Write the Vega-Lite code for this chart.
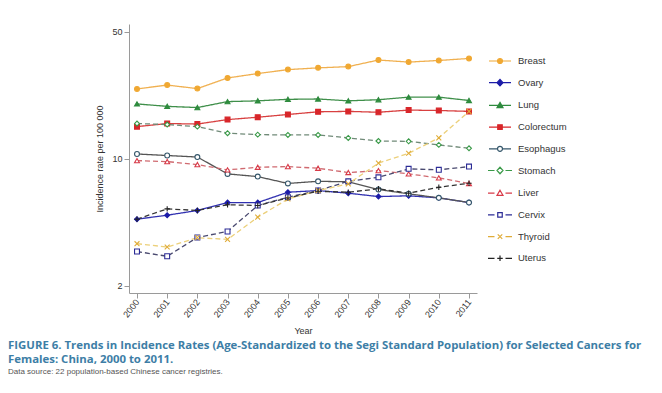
{
  "$schema": "https://vega.github.io/schema/vega-lite/v6.json",
  "width": 348,
  "height": 269,
  "autosize": {"type": "none"},
  "padding": {"left": 129, "top": 24, "right": 185, "bottom": 100},
  "background": "white",
  "title": {
    "text": ["FIGURE 6. Trends in Incidence Rates (Age-Standardized to the Segi Standard Population) for Selected Cancers for", "Females: China, 2000 to 2011."],
    "subtitle": "Data source: 22 population-based Chinese cancer registries.",
    "orient": "bottom",
    "anchor": "start",
    "frame": "group",
    "dx": -121,
    "offset": 4,
    "font": "Open Sans",
    "fontSize": 11.4,
    "fontWeight": "bold",
    "color": "#3d7ea6",
    "lineHeight": 14,
    "subtitleFont": "Liberation Sans",
    "subtitleFontSize": 8,
    "subtitleColor": "#555555",
    "subtitlePadding": 3
  },
  "data": {
    "values": [
      {"Year": 2000, "Cancer": "Breast", "Rate": 24.2}, {"Year": 2001, "Cancer": "Breast", "Rate": 25.4}, {"Year": 2002, "Cancer": "Breast", "Rate": 24.3}, {"Year": 2003, "Cancer": "Breast", "Rate": 27.8}, {"Year": 2004, "Cancer": "Breast", "Rate": 29.4}, {"Year": 2005, "Cancer": "Breast", "Rate": 30.9}, {"Year": 2006, "Cancer": "Breast", "Rate": 31.6}, {"Year": 2007, "Cancer": "Breast", "Rate": 32.1}, {"Year": 2008, "Cancer": "Breast", "Rate": 34.9}, {"Year": 2009, "Cancer": "Breast", "Rate": 34.0}, {"Year": 2010, "Cancer": "Breast", "Rate": 34.7}, {"Year": 2011, "Cancer": "Breast", "Rate": 35.6},
      {"Year": 2000, "Cancer": "Ovary", "Rate": 4.64}, {"Year": 2001, "Cancer": "Ovary", "Rate": 4.88}, {"Year": 2002, "Cancer": "Ovary", "Rate": 5.18}, {"Year": 2003, "Cancer": "Ovary", "Rate": 5.73}, {"Year": 2004, "Cancer": "Ovary", "Rate": 5.73}, {"Year": 2005, "Cancer": "Ovary", "Rate": 6.53}, {"Year": 2006, "Cancer": "Ovary", "Rate": 6.67}, {"Year": 2007, "Cancer": "Ovary", "Rate": 6.45}, {"Year": 2008, "Cancer": "Ovary", "Rate": 6.18}, {"Year": 2009, "Cancer": "Ovary", "Rate": 6.24}, {"Year": 2010, "Cancer": "Ovary", "Rate": 6.08}, {"Year": 2011, "Cancer": "Ovary", "Rate": 5.73},
      {"Year": 2000, "Cancer": "Lung", "Rate": 20.0}, {"Year": 2001, "Cancer": "Lung", "Rate": 19.4}, {"Year": 2002, "Cancer": "Lung", "Rate": 19.1}, {"Year": 2003, "Cancer": "Lung", "Rate": 20.6}, {"Year": 2004, "Cancer": "Lung", "Rate": 20.8}, {"Year": 2005, "Cancer": "Lung", "Rate": 21.2}, {"Year": 2006, "Cancer": "Lung", "Rate": 21.3}, {"Year": 2007, "Cancer": "Lung", "Rate": 20.8}, {"Year": 2008, "Cancer": "Lung", "Rate": 21.1}, {"Year": 2009, "Cancer": "Lung", "Rate": 21.8}, {"Year": 2010, "Cancer": "Lung", "Rate": 21.8}, {"Year": 2011, "Cancer": "Lung", "Rate": 20.9},
      {"Year": 2000, "Cancer": "Colorectum", "Rate": 15.0}, {"Year": 2001, "Cancer": "Colorectum", "Rate": 15.6}, {"Year": 2002, "Cancer": "Colorectum", "Rate": 15.5}, {"Year": 2003, "Cancer": "Colorectum", "Rate": 16.4}, {"Year": 2004, "Cancer": "Colorectum", "Rate": 16.9}, {"Year": 2005, "Cancer": "Colorectum", "Rate": 17.5}, {"Year": 2006, "Cancer": "Colorectum", "Rate": 18.1}, {"Year": 2007, "Cancer": "Colorectum", "Rate": 18.2}, {"Year": 2008, "Cancer": "Colorectum", "Rate": 18.0}, {"Year": 2009, "Cancer": "Colorectum", "Rate": 18.5}, {"Year": 2010, "Cancer": "Colorectum", "Rate": 18.4}, {"Year": 2011, "Cancer": "Colorectum", "Rate": 18.2},
      {"Year": 2000, "Cancer": "Esophagus", "Rate": 10.6}, {"Year": 2001, "Cancer": "Esophagus", "Rate": 10.4}, {"Year": 2002, "Cancer": "Esophagus", "Rate": 10.2}, {"Year": 2003, "Cancer": "Esophagus", "Rate": 8.24}, {"Year": 2004, "Cancer": "Esophagus", "Rate": 7.96}, {"Year": 2005, "Cancer": "Esophagus", "Rate": 7.3}, {"Year": 2006, "Cancer": "Esophagus", "Rate": 7.5}, {"Year": 2007, "Cancer": "Esophagus", "Rate": 7.45}, {"Year": 2008, "Cancer": "Esophagus", "Rate": 6.76}, {"Year": 2009, "Cancer": "Esophagus", "Rate": 6.4}, {"Year": 2010, "Cancer": "Esophagus", "Rate": 6.08}, {"Year": 2011, "Cancer": "Esophagus", "Rate": 5.73},
      {"Year": 2000, "Cancer": "Stomach", "Rate": 15.6}, {"Year": 2001, "Cancer": "Stomach", "Rate": 15.4}, {"Year": 2002, "Cancer": "Stomach", "Rate": 15.0}, {"Year": 2003, "Cancer": "Stomach", "Rate": 13.8}, {"Year": 2004, "Cancer": "Stomach", "Rate": 13.55}, {"Year": 2005, "Cancer": "Stomach", "Rate": 13.5}, {"Year": 2006, "Cancer": "Stomach", "Rate": 13.5}, {"Year": 2007, "Cancer": "Stomach", "Rate": 13.0}, {"Year": 2008, "Cancer": "Stomach", "Rate": 12.5}, {"Year": 2009, "Cancer": "Stomach", "Rate": 12.45}, {"Year": 2010, "Cancer": "Stomach", "Rate": 11.9}, {"Year": 2011, "Cancer": "Stomach", "Rate": 11.4},
      {"Year": 2000, "Cancer": "Liver", "Rate": 9.75}, {"Year": 2001, "Cancer": "Liver", "Rate": 9.63}, {"Year": 2002, "Cancer": "Liver", "Rate": 9.27}, {"Year": 2003, "Cancer": "Liver", "Rate": 8.67}, {"Year": 2004, "Cancer": "Liver", "Rate": 8.96}, {"Year": 2005, "Cancer": "Liver", "Rate": 9.04}, {"Year": 2006, "Cancer": "Liver", "Rate": 8.85}, {"Year": 2007, "Cancer": "Liver", "Rate": 8.38}, {"Year": 2008, "Cancer": "Liver", "Rate": 8.59}, {"Year": 2009, "Cancer": "Liver", "Rate": 8.24}, {"Year": 2010, "Cancer": "Liver", "Rate": 7.83}, {"Year": 2011, "Cancer": "Liver", "Rate": 7.29},
      {"Year": 2000, "Cancer": "Cervix", "Rate": 3.08}, {"Year": 2001, "Cancer": "Cervix", "Rate": 2.9}, {"Year": 2002, "Cancer": "Cervix", "Rate": 3.68}, {"Year": 2003, "Cancer": "Cervix", "Rate": 3.97}, {"Year": 2004, "Cancer": "Cervix", "Rate": 5.52}, {"Year": 2005, "Cancer": "Cervix", "Rate": 6.13}, {"Year": 2006, "Cancer": "Cervix", "Rate": 6.67}, {"Year": 2007, "Cancer": "Cervix", "Rate": 7.5}, {"Year": 2008, "Cancer": "Cervix", "Rate": 7.89}, {"Year": 2009, "Cancer": "Cervix", "Rate": 8.78}, {"Year": 2010, "Cancer": "Cervix", "Rate": 8.67}, {"Year": 2011, "Cancer": "Cervix", "Rate": 9.04},
      {"Year": 2000, "Cancer": "Thyroid", "Rate": 3.4}, {"Year": 2001, "Cancer": "Thyroid", "Rate": 3.26}, {"Year": 2002, "Cancer": "Thyroid", "Rate": 3.67}, {"Year": 2003, "Cancer": "Thyroid", "Rate": 3.59}, {"Year": 2004, "Cancer": "Thyroid", "Rate": 4.76}, {"Year": 2005, "Cancer": "Thyroid", "Rate": 5.99}, {"Year": 2006, "Cancer": "Thyroid", "Rate": 6.67}, {"Year": 2007, "Cancer": "Thyroid", "Rate": 7.26}, {"Year": 2008, "Cancer": "Thyroid", "Rate": 9.45}, {"Year": 2009, "Cancer": "Thyroid", "Rate": 10.7}, {"Year": 2010, "Cancer": "Thyroid", "Rate": 13.0}, {"Year": 2011, "Cancer": "Thyroid", "Rate": 18.2},
      {"Year": 2000, "Cancer": "Uterus", "Rate": 4.64}, {"Year": 2001, "Cancer": "Uterus", "Rate": 5.29}, {"Year": 2002, "Cancer": "Uterus", "Rate": 5.18}, {"Year": 2003, "Cancer": "Uterus", "Rate": 5.57}, {"Year": 2004, "Cancer": "Uterus", "Rate": 5.52}, {"Year": 2005, "Cancer": "Uterus", "Rate": 6.07}, {"Year": 2006, "Cancer": "Uterus", "Rate": 6.61}, {"Year": 2007, "Cancer": "Uterus", "Rate": 6.53}, {"Year": 2008, "Cancer": "Uterus", "Rate": 6.82}, {"Year": 2009, "Cancer": "Uterus", "Rate": 6.45}, {"Year": 2010, "Cancer": "Uterus", "Rate": 6.95}, {"Year": 2011, "Cancer": "Uterus", "Rate": 7.32}
    ]
  },
  "encoding": {
    "x": {
      "field": "Year", "type": "quantitative",
      "scale": {"domain": [1999.735, 2011.265], "nice": false, "zero": false},
      "axis": {
        "title": "Year",
        "values": [2000, 2001, 2002, 2003, 2004, 2005, 2006, 2007, 2008, 2009, 2010, 2011],
        "format": "d",
        "labelAngle": -52,
        "grid": false,
        "titlePadding": 8
      }
    },
    "y": {
      "field": "Rate", "type": "quantitative",
      "scale": {"type": "log", "domain": [1.82, 55.1], "nice": false},
      "axis": {
        "title": "Incidence rate per 100 000",
        "values": [2, 10, 50],
        "grid": false,
        "titlePadding": 7
      }
    }
  },
  "layer": [
    {
      "mark": {"type": "line", "strokeWidth": 1.3},
      "encoding": {
        "color": {
          "field": "Cancer", "type": "nominal", "legend": null,
          "scale": {
            "domain": ["Breast", "Ovary", "Lung", "Colorectum", "Esophagus", "Stomach", "Liver", "Cervix", "Thyroid", "Uterus"],
            "range": ["#f0b050", "#3030b0", "#3f8f4a", "#d84040", "#555555", "#708a78", "#d06a70", "#4a4a70", "#ecd07a", "#333333"]
          }
        },
        "strokeDash": {
          "field": "Cancer", "type": "nominal", "legend": null,
          "scale": {
            "domain": ["Breast", "Ovary", "Lung", "Colorectum", "Esophagus", "Stomach", "Liver", "Cervix", "Thyroid", "Uterus"],
            "range": [[1, 0], [1, 0], [1, 0], [1, 0], [1, 0], [5, 3], [5, 3], [5, 3], [5, 3], [5, 3]]
          }
        }
      }
    },
    {
      "mark": {"type": "point", "opacity": 1, "strokeWidth": 1.1, "size": 24},
      "encoding": {
        "shape": {
          "field": "Cancer", "type": "nominal", "legend": null,
          "scale": {
            "domain": ["Breast", "Ovary", "Lung", "Colorectum", "Esophagus", "Stomach", "Liver", "Cervix", "Thyroid", "Uterus"],
            "range": ["circle", "diamond", "triangle-up", "square", "circle", "diamond", "triangle-up", "square", "M-1,-1L1,1M-1,1L1,-1", "M-1.1,0H1.1M0,-1.1V1.1"]
          }
        },
        "stroke": {
          "field": "Cancer", "type": "nominal", "legend": null,
          "scale": {
            "domain": ["Breast", "Ovary", "Lung", "Colorectum", "Esophagus", "Stomach", "Liver", "Cervix", "Thyroid", "Uterus"],
            "range": ["#f0a832", "#1c1ca8", "#2e8b3e", "#d8262a", "#34566a", "#3a9a48", "#d83a48", "#2c2c96", "#e0ac38", "#222222"]
          }
        },
        "fill": {
          "field": "Cancer", "type": "nominal", "legend": null,
          "scale": {
            "domain": ["Breast", "Ovary", "Lung", "Colorectum", "Esophagus", "Stomach", "Liver", "Cervix", "Thyroid", "Uterus"],
            "range": ["#f0a832", "#1c1ca8", "#2e8b3e", "#d8262a", "#ffffff", "#ffffff", "#ffffff", "#ffffff", "#ffffff", "#ffffff"]
          }
        }
      }
    },
    {
      "transform": [{"filter": "datum.Rate < 0"}],
      "mark": {"type": "point", "opacity": 1},
      "encoding": {
        "shape": {
          "field": "Cancer", "type": "nominal", "legend": {"title": null},
          "scale": {
            "domain": ["Breast", "Ovary", "Lung", "Colorectum", "Esophagus", "Stomach", "Liver", "Cervix", "Thyroid", "Uterus"],
            "range": [
              "M-2.2,0H2.2M0.5,0A0.5,0.5,0,1,1,-0.5,0A0.5,0.5,0,1,1,0.5,0Z",
              "M-2.2,0H2.2M0,-0.65L0.6,0L0,0.65L-0.6,0Z",
              "M-2.2,0H2.2M0,-0.6L0.6,0.45L-0.6,0.45Z",
              "M-2.2,0H2.2M-0.45,-0.45H0.45V0.45H-0.45Z",
              "M-2.2,0H-0.5M0.5,0H2.2M0.5,0A0.5,0.5,0,1,1,-0.5,0A0.5,0.5,0,1,1,0.5,0Z",
              "M-2.4,0H-1.1M1.1,0H2.4M0,-0.65L0.6,0L0,0.65L-0.6,0Z",
              "M-2.4,0H-1.1M1.1,0H2.4M0,-0.6L0.6,0.45L-0.6,0.45Z",
              "M-2.4,0H-1.1M1.1,0H2.4M-0.45,-0.45H0.45V0.45H-0.45Z",
              "M-2.4,0H-1.1M1.1,0H2.4M-0.45,-0.45L0.45,0.45M-0.45,0.45L0.45,-0.45",
              "M-2.4,0H-1.1M1.1,0H2.4M-0.55,0H0.55M0,-0.55V0.55"
            ]
          }
        },
        "stroke": {
          "field": "Cancer", "type": "nominal", "legend": {"title": null},
          "scale": {
            "domain": ["Breast", "Ovary", "Lung", "Colorectum", "Esophagus", "Stomach", "Liver", "Cervix", "Thyroid", "Uterus"],
            "range": ["#f0a832", "#1c1ca8", "#2e8b3e", "#d8262a", "#34566a", "#3a9a48", "#d83a48", "#2c2c96", "#e0ac38", "#222222"]
          }
        },
        "fill": {
          "field": "Cancer", "type": "nominal", "legend": {"title": null},
          "scale": {
            "domain": ["Breast", "Ovary", "Lung", "Colorectum", "Esophagus", "Stomach", "Liver", "Cervix", "Thyroid", "Uterus"],
            "range": ["#f0a832", "#1c1ca8", "#2e8b3e", "#d8262a", "#ffffff", "#ffffff", "#ffffff", "#ffffff", "#ffffff", "#ffffff"]
          }
        }
      }
    }
  ],
  "resolve": {"scale": {"shape": "independent", "stroke": "independent", "fill": "independent"}},
  "config": {
    "view": {"stroke": null},
    "axis": {
      "domainColor": "#9a9a9a",
      "tickColor": "#9a9a9a",
      "tickSize": 5,
      "labelColor": "#333333",
      "labelFont": "Liberation Sans",
      "labelFontSize": 9,
      "titleFont": "Liberation Sans",
      "titleFontSize": 9,
      "titleFontWeight": "normal",
      "titleColor": "#333333"
    },
    "legend": {
      "orient": "none",
      "legendX": 365,
      "legendY": 31,
      "padding": 0,
      "symbolSize": 100,
      "symbolStrokeWidth": 1.2,
      "rowPadding": 10.7,
      "labelOffset": 12,
      "labelFont": "Liberation Sans",
      "labelFontSize": 9.5,
      "labelColor": "#333333"
    }
  }
}
